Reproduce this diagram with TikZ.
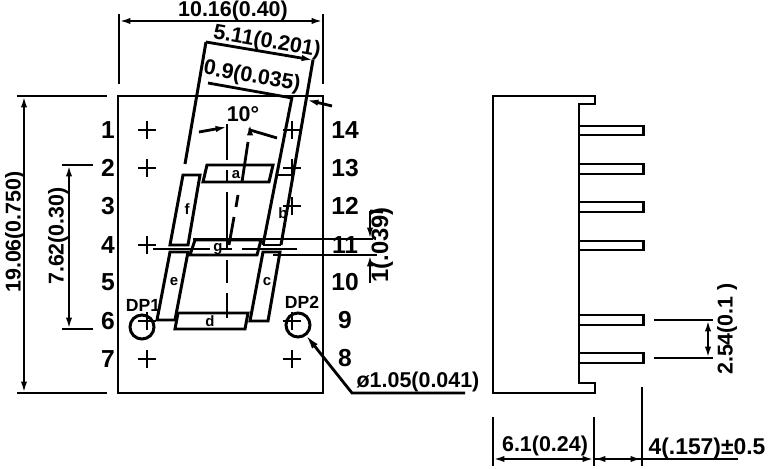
\documentclass[tikz,border=0pt]{standalone}
\usepackage{fontspec}
\setmainfont{Liberation Sans}
\usetikzlibrary{arrows.meta}

\begin{document}
\begin{tikzpicture}[x=0.02cm, y=-0.02cm, line width=1.7pt, line join=miter,
	dimline/.style={line width=1.6pt, {Latex[length=6.5pt,width=3.6pt]}-{Latex[length=6.5pt,width=3.6pt]}},
	oneway/.style={line width=1.6pt, -{Latex[length=6.5pt,width=3.6pt]}},
	thin line/.style={line width=1.6pt},
	pinnum/.style={font=\fontsize{14}{14}\selectfont\bfseries, inner sep=0pt},
	dimtext/.style={font=\fontsize{12.2}{12}\selectfont\bfseries, inner sep=0pt},
	segname/.style={font=\fontsize{8.5}{9}\selectfont\bfseries, inner sep=0pt},
	dpname/.style={font=\fontsize{10}{10}\selectfont\bfseries, inner sep=0pt},
	]
	\useasboundingbox (0,0) rectangle (771,469);

	% front view
	\draw (118,96) rectangle (323,393);
	\foreach \n/\y in {1/130, 2/168, 3/206, 4/245, 5/282, 6/321, 7/359}
		\node[pinnum] (pin\n) at (108,\y) {\n};
	\foreach \n/\y in {14/130, 13/168, 12/206, 11/245, 10/282, 9/320, 8/358}
		\node[pinnum] (pin\n) at (345,\y) {\n};
	\foreach \x/\y in {147/130, 147/168, 147/245, 147/321, 147/359, 292/130, 292/168, 292/206, 292/321, 292/359}
		\draw[thin line] (\x-9,\y) -- (\x+9,\y) (\x,\y-9) -- (\x,\y+9);

	% segments
	\draw (207,165) -- (273,165) -- (269,182) -- (203,182) -- cycle;
	\draw (195,240) -- (261,240) -- (257,255) -- (190,255) -- cycle;
	\draw (178,313) -- (248,313) -- (245,329) -- (175,329) -- cycle;
	\draw (183,175) -- (200,175) -- (188,245) -- (170,245) -- cycle;
	\draw (170,252) -- (188,252) -- (175,320) -- (157,320) -- cycle;
	\draw (263,252) -- (280,252) -- (268,321) -- (250,321) -- cycle;
	\draw (277,175) -- (293,175) (263,245) -- (281,245);
	\node[segname] (sega) at (236,175) {a};
	\node[segname] (segb) at (283,213) {b};
	\node[segname] (segc) at (267,282) {c};
	\node[segname] (segd) at (210,321) {d};
	\node[segname] (sege) at (174,282) {e};
	\node[segname] (segf) at (187,209) {f};
	\node[segname] (segg) at (218,249) {g};

	% slanted outline
	\draw (206,42) -- (185,164);
	\draw (313,60) -- (281,245);
	\draw (292,97) -- (263,245);

	% centre lines
	\foreach \a/\b in {124/160, 170/183, 192/250, 260/283, 293/318}
		\draw[thin line] (227,\a) -- (227,\b);
	\draw[thin line] (248,142) -- (242,182) (238,195) -- (236,207) (234,217) -- (229,245);
	\draw[thin line] (153,249) -- (210,249) (220,249) -- (232,249) (242,249) -- (297,249);
	\draw[thin line] (193,239) -- (373,239) (273,255) -- (377,255);

	% dimensions on top
	\draw[thin line] (119,14) -- (119,84) (323,14) -- (323,84);
	\draw[dimline] (119,21) -- (323,21);
	\node[dimtext] (widthtxt) at (233,11) {10.16(0.40)};
	\draw[oneway] (206,42) -- (313,60);
	\node[dimtext, rotate=-10] (slanttxt) at (267,42) {5.11(0.201)};
	\draw[thin line] (208,83) -- (292,98);
	\draw[oneway] (332,106) -- (307,100);
	\node[dimtext, rotate=-10] (segtxt) at (252,77) {0.9(0.035)};
	\draw[oneway] (199,132) -- (227,127);
	\draw[oneway] (277,138) -- (250,130) -- (250,124);
	\node[dimtext] (angletxt) at (243,114) {10°};

	% dimension of segment g
	\draw[oneway] (370,211) -- (370,239);
	\draw[oneway] (370,283) -- (370,255);
	\draw[thin line] (370,211) -- (383,212);
	\node[dimtext, font=\fontsize{13.5}{12}\selectfont\bfseries, rotate=90] (thicktxt) at (382,245) {1(.039)};

	% dimensions on the left
	\draw[thin line] (17,96) -- (107,96) (17,393) -- (107,393);
	\draw[dimline] (24,96) -- (24,393);
	\node[dimtext, rotate=90] (heighttxt) at (15,232) {19.06(0.750)};
	\draw[thin line] (62,165) -- (93,165) (62,329) -- (93,329);
	\draw[dimline] (69,165) -- (69,329);
	\node[dimtext, rotate=90] (pitchtxt) at (58,236) {7.62(0.30)};

	% decimal points
	\draw (142,327) circle (12);
	\draw (298,325) circle (12);
	\node[dpname] (dpone) at (143,305) {DP1};
	\node[dpname] (dptwo) at (302,302) {DP2};
	\draw[thin line, {Latex[length=9pt,width=4pt]}-] (305,334) -- (352,393) -- (465,393);
	\node[dimtext] (holetxt) at (418,382) {ø1.05(0.041)};

	% side view
	\draw (493,96) -- (595,96) -- (595,104) -- (579,104) -- (579,383) -- (595,383) -- (595,393) -- (493,393) -- cycle;
	\foreach \a/\b in {126/135, 164/174, 202/212, 241/250, 315/325, 353/363}
		\draw (579,\a) -- (643,\a) -- (643,\b) -- (579,\b);

	% side view dimensions
	\draw[thin line] (654,320) -- (713,320) (654,358) -- (713,358);
	\draw[dimline] (708,320) -- (708,358);
	\node[dimtext, rotate=90] (leadtxt) at (727,329) {2.54(0.1 )};
	\draw[thin line] (493,417) -- (493,466) (594,417) -- (594,466) (642,387) -- (642,466);
	\draw[dimline] (493,459) -- (594,459);
	\draw[thin line] (594,459) -- (738,459);
	\draw[oneway] (620,459) -- (594,459);
	\draw[oneway] (620,459) -- (642,459);
	\node[dimtext] (depthtxt) at (545,446) {6.1(0.24)};
	\node[dimtext, font=\fontsize{13}{12}\selectfont\bfseries] (pintxt) at (707,449) {4(.157)±0.5};
\end{tikzpicture}
\end{document}
